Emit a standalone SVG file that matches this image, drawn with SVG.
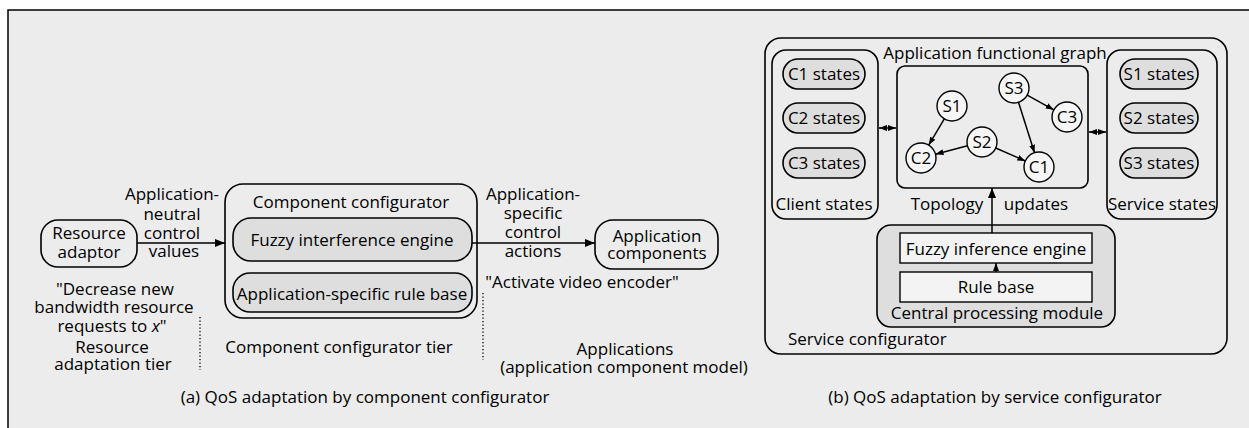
<svg xmlns="http://www.w3.org/2000/svg" width="1249" height="428" viewBox="0 0 1249 428">
  <defs>
    <marker id="arr" viewBox="0 0 10 8" refX="10" refY="4" markerWidth="10" markerHeight="8" markerUnits="userSpaceOnUse" orient="auto">
      <path d="M0,0 L10,4 L0,8 Z" fill="#000"/>
    </marker>
    <marker id="arrS" viewBox="0 0 8 6" refX="8" refY="3" markerWidth="8" markerHeight="6" markerUnits="userSpaceOnUse" orient="auto-start-reverse">
      <path d="M0,0 L8,3 L0,6 Z" fill="#000"/>
    </marker>
    <style>
      text { font-family: "Open Sans", "Noto Sans", "Liberation Sans", sans-serif; font-size: 17px; fill: #000; }
      .m { text-anchor: middle; }
      .box { fill: none; stroke: #000; stroke-width: 1.6; }
      .shade { fill: #dedede; stroke: #000; stroke-width: 1.6; }
      .pale { fill: #f3f3f3; stroke: #000; stroke-width: 1.4; }
      .node { fill: #f6f6f6; stroke: #000; stroke-width: 1.4; }
      .wire { stroke: #000; stroke-width: 1.5; fill: none; }
      .dot { stroke: #000; stroke-width: 1.3; stroke-dasharray: 1.3 2.2; fill: none; }
    </style>
  </defs>

  <!-- page frame -->
  <rect x="0" y="0" width="1249" height="428" fill="#fff"/>
  <rect x="8" y="10" width="1241" height="418" fill="#ececec"/>
  <path d="M8,428 V10 H1249" fill="none" stroke="#000" stroke-width="1.5"/>

  <!-- ===== (a) component configurator ===== -->
  <g id="resource-adaptor">
    <rect class="box" x="41" y="220" width="96" height="47" rx="17"/>
    <text class="m" x="89" y="239">Resource<tspan x="89" dy="19">adaptor</tspan></text>
  </g>

  <g id="component-configurator">
    <rect class="box" x="225" y="184" width="252" height="134" rx="18"/>
    <text class="m" x="351" y="208">Component configurator</text>
  </g>
  <g id="fuzzy-interference-engine">
    <rect class="shade" x="233" y="218" width="239" height="43" rx="18"/>
    <text class="m" x="352" y="246">Fuzzy interference engine</text>
  </g>
  <g id="rule-base-a">
    <rect class="shade" x="233" y="273" width="239" height="39" rx="17"/>
    <text class="m" x="352" y="300">Application-specific rule base</text>
  </g>

  <g id="application-components">
    <rect class="box" x="595" y="220" width="123" height="49" rx="18"/>
    <text class="m" x="657" y="242">Application<tspan x="657" dy="17">components</tspan></text>
  </g>

  <g id="labels-a">
    <text class="m" x="172" y="200">Application-<tspan x="172" dy="20">neutral</tspan><tspan x="172" dy="19">control</tspan><tspan x="174" dy="18">values</tspan></text>

    <text class="m" x="533" y="200">Application-<tspan x="533" dy="19">specific</tspan><tspan x="533" dy="19">control</tspan><tspan x="533" dy="19">actions</tspan></text>

    <text class="m" x="115" y="295">"Decrease new<tspan x="114" dy="18">bandwidth resource</tspan><tspan x="112" dy="19">requests to <tspan font-style="italic">x</tspan>"</tspan></text>

    <text class="m" x="582" y="288">"Activate video encoder"</text>

    <text class="m" x="112" y="353">Resource<tspan x="113" dy="17">adaptation tier</tspan></text>
    <text class="m" x="339" y="353">Component configurator tier</text>
    <text class="m" x="625" y="355">Applications<tspan x="624" dy="18">(application component model)</tspan></text>

    <text class="m" x="365" y="403">(a) QoS adaptation by component configurator</text>
  </g>

  <!-- ===== (b) service configurator ===== -->
  <g id="service-configurator">
    <rect class="box" x="765" y="38" width="462" height="316" rx="16"/>
    <text x="788" y="345">Service configurator</text>
    <text class="m" x="995" y="59">Application functional graph</text>
  </g>

  <g id="client-states">
    <rect class="box" x="772" y="50" width="106" height="169" rx="14"/>
    <rect class="shade" x="783" y="59" width="82" height="30" rx="15"/>
    <text class="m" x="824" y="80">C1 states</text>
    <rect class="shade" x="783" y="103" width="82" height="30" rx="15"/>
    <text class="m" x="824" y="124">C2 states</text>
    <rect class="shade" x="783" y="148" width="82" height="30" rx="15"/>
    <text class="m" x="824" y="169">C3 states</text>
    <text class="m" x="824" y="210">Client states</text>
  </g>

  <g id="service-states">
    <rect class="box" x="1107" y="50" width="110" height="169" rx="14"/>
    <rect class="shade" x="1120" y="59" width="78" height="30" rx="15"/>
    <text class="m" x="1159" y="80">S1 states</text>
    <rect class="shade" x="1120" y="103" width="78" height="30" rx="15"/>
    <text class="m" x="1159" y="124">S2 states</text>
    <rect class="shade" x="1120" y="148" width="78" height="30" rx="15"/>
    <text class="m" x="1159" y="169">S3 states</text>
    <text class="m" x="1162" y="210">Service states</text>
  </g>

  <g id="topology">
    <rect class="box" x="897" y="66" width="191" height="122" rx="8" fill="#e6e6e6"/>
    <text class="m" x="947" y="210">Topology</text>
    <text class="m" x="1036" y="210">updates</text>
  </g>
  <g id="node-S1"><circle class="node" cx="952" cy="106" r="15"/><text class="m" x="952" y="112">S1</text></g>
  <g id="node-S2"><circle class="node" cx="982" cy="142" r="15"/><text class="m" x="982" y="148">S2</text></g>
  <g id="node-S3"><circle class="node" cx="1014" cy="88" r="15"/><text class="m" x="1014" y="94">S3</text></g>
  <g id="node-C1"><circle class="node" cx="1039" cy="167" r="15"/><text class="m" x="1039" y="173">C1</text></g>
  <g id="node-C2"><circle class="node" cx="921" cy="158" r="15"/><text class="m" x="921" y="164">C2</text></g>
  <g id="node-C3"><circle class="node" cx="1067" cy="117" r="15"/><text class="m" x="1067" y="123">C3</text></g>

  <g id="central-processing-module">
    <rect class="shade" x="877" y="225" width="238" height="102" rx="14"/>
    <text class="m" x="997" y="319">Central processing module</text>
  </g>
  <g id="fuzzy-inference-engine">
    <rect class="pale" x="900" y="233" width="192" height="30"/>
    <text class="m" x="996" y="255">Fuzzy inference engine</text>
  </g>
  <g id="rule-base-b">
    <rect class="pale" x="900" y="272" width="192" height="30"/>
    <text class="m" x="996" y="293">Rule base</text>
  </g>

  <g id="labels-b">
    <text class="m" x="995" y="403">(b) QoS adaptation by service configurator</text>
  </g>

  <!-- connectors -->
  <g id="connectors">
    <line class="wire" x1="137" y1="243" x2="225" y2="243" marker-end="url(#arr)"/>
    <line class="wire" x1="472" y1="243" x2="595" y2="243" marker-end="url(#arr)"/>
    <line class="dot" x1="200" y1="317" x2="200" y2="370"/>
    <line class="dot" x1="483" y1="293" x2="483" y2="360"/>

    <line class="wire" x1="879" y1="128" x2="896" y2="128" marker-start="url(#arrS)" marker-end="url(#arrS)"/>
    <line class="wire" x1="1089" y1="132" x2="1106" y2="132" marker-start="url(#arrS)" marker-end="url(#arrS)"/>

    <line class="wire" x1="944.3" y1="118.9" x2="928.7" y2="145.1" marker-end="url(#arrS)"/>
    <line class="wire" x1="967.5" y1="145.8" x2="935.5" y2="154.2" marker-end="url(#arrS)"/>
    <line class="wire" x1="995.7" y1="148" x2="1025.3" y2="161" marker-end="url(#arrS)"/>
    <line class="wire" x1="1018.5" y1="102.3" x2="1034.5" y2="152.7" marker-end="url(#arrS)"/>
    <line class="wire" x1="1027.2" y1="95.2" x2="1053.8" y2="109.8" marker-end="url(#arrS)"/>

    <line class="wire" x1="992" y1="233" x2="992" y2="188" marker-end="url(#arr)"/>
    <line class="wire" x1="996" y1="272" x2="996" y2="263" marker-end="url(#arrS)"/>
  </g>
</svg>
